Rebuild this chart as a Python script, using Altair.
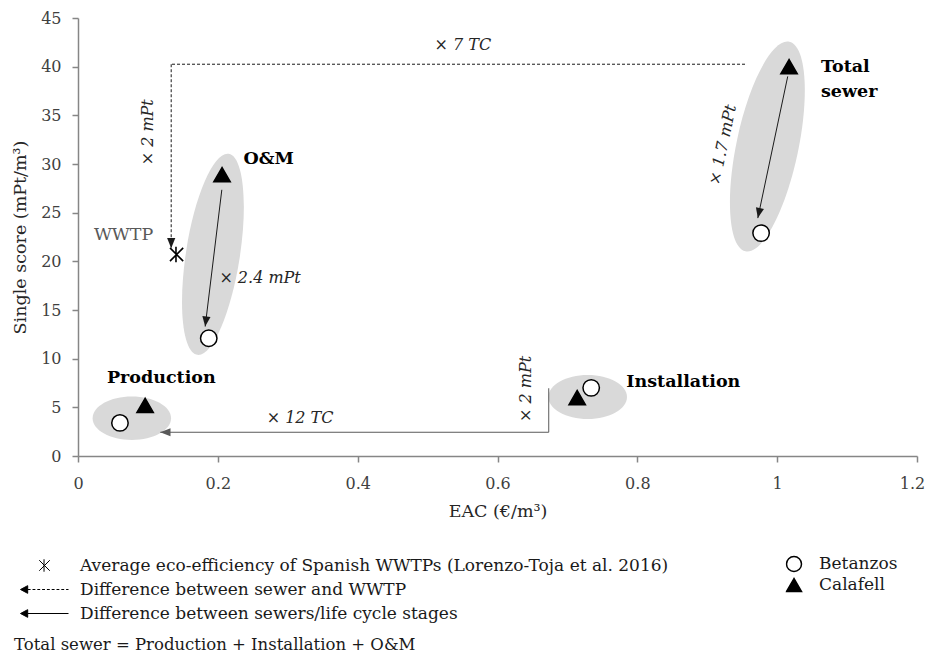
import altair as alt
import pandas as pd

# ---------------- data ----------------
stages = ["Production", "Installation", "O&M", "Total sewer"]
betanzos_eac = [0.060, 0.734, 0.187, 0.977]
betanzos_score = [3.4, 7.0, 12.1, 22.9]
calafell_eac = [0.096, 0.714, 0.206, 1.017]
calafell_score = [5.2, 6.0, 28.9, 40.0]
wwtp_eac = [0.141]
wwtp_score = [20.7]

x_ticks = [0, 0.2, 0.4, 0.6, 0.8, 1.0, 1.2]
y_ticks = [0, 5, 10, 15, 20, 25, 30, 35, 40, 45]

# group highlight ellipses (centres in data units)
ell_stage = ["Production", "Installation", "O&M", "Total sewer"]
ell_x = [0.077, 0.729, 0.193, 0.986]
ell_y = [3.87, 6.06, 20.72, 31.8]

# arrows (data units)
dash_x = [0.954, 0.1333]
dash_y = [40.25, 40.25]
dash_x2 = [0.1333, 0.1333]
dash_y2 = [40.25, 21.35]

stage_x = [0.2057, 1.0151, 0.6733, 0.6733]
stage_y = [27.35, 39.0, 6.96, 2.44]
stage_x2 = [0.1819, 0.9723, 0.6733, 0.1176]
stage_y2 = [13.3, 24.44, 2.44, 2.44]

head_x = [0.1333, 0.1819, 0.9723, 0.1176]
head_y = [21.35, 13.3, 24.44, 2.44]

# annotation texts
ital_text = ["× 7 TC", "× 2 mPt", "× 2.4 mPt", "× 1.7 mPt", "× 12 TC", "× 2 mPt"]
ital_x = [0.5504, 0.1004, 0.2604, 0.9223, 0.3176, 0.6414]
ital_y = [42.25, 33.26, 18.27, 31.97, 3.87, 6.89]

bold_text = ["O&M", "Total", "sewer", "Production", "Installation"]
bold_x = [0.2366, 1.0627, 1.0627, 0.0414, 0.7843]
bold_y = [30.53, 40.0, 37.35, 8.05, 7.64]

legend_items = [
    "Average eco-efficiency of Spanish WWTPs (Lorenzo-Toja et al. 2016)",
    "Difference between sewer and WWTP",
    "Difference between sewers/life cycle stages",
]
sites = ["Betanzos", "Calafell"]
footnote = "Total sewer = Production + Installation + O&M"

# ---------------- styling helpers ----------------
SERIF = "DejaVu Serif"
AX = "#868686"


def ellipse_path(rx, ry):
    k = 0.5523
    f = lambda v: f"{v:.4f}"
    return (f"M {f(rx)} 0 C {f(rx)} {f(k*ry)} {f(k*rx)} {f(ry)} 0 {f(ry)} "
            f"C {f(-k*rx)} {f(ry)} {f(-rx)} {f(k*ry)} {f(-rx)} 0 "
            f"C {f(-rx)} {f(-k*ry)} {f(-k*rx)} {f(-ry)} 0 {f(-ry)} "
            f"C {f(k*rx)} {f(-ry)} {f(rx)} {f(-k*ry)} {f(rx)} 0 Z")


HEAD = "M 0 0 L -0.4 -1 L 0.4 -1 Z"
STAR = "M -0.22 -0.22 L 0.22 0.22 M 0.22 -0.22 L -0.22 0.22 M -0.02 -0.26 L -0.02 0.26"
arrow_tip = "M -1 0 L -0.7 -0.16 L -0.7 0.16 Z"
dash_parts = []
pos = -0.7
while pos < 0.98:
    dash_parts.append(f"M {pos:.3f} 0 L {min(pos + 0.12, 1.0):.3f} 0")
    pos += 0.2
DASHED_ARROW = arrow_tip + " " + " ".join(dash_parts)
SOLID_ARROW = arrow_tip + " M -0.7 0 L 1 0"

x_enc = alt.X(
    "x:Q",
    scale=alt.Scale(domain=[0, 1.2], nice=False, zero=False),
    axis=alt.Axis(values=x_ticks, format="~g", title="EAC (€/m³)", grid=False,
                  tickSize=6, tickColor=AX, tickWidth=1.5, domainColor=AX, domainWidth=1.5,
                  labelFont=SERIF, labelFontSize=16, labelColor="#404040", labelPadding=13,
                  labelFlush=False, labelOverlap=False,
                  labelOffset={"condition": {"test": "datum.value > 1.1", "value": -5}, "value": 0},
                  titleFont=SERIF, titleFontSize=17.5, titleFontWeight="normal",
                  titleColor="#262626", titlePadding=11),
)
y_enc = alt.Y(
    "y:Q",
    scale=alt.Scale(domain=[0, 45], nice=False, zero=False),
    axis=alt.Axis(values=y_ticks, title="Single score (mPt/m³)", grid=False,
                  tickSize=6, tickColor=AX, tickWidth=1.5, domainColor=AX, domainWidth=1.5,
                  labelFont=SERIF, labelFontSize=16, labelColor="#404040", labelPadding=11,
                  labelFlush=False, labelOverlap=False,
                  titleFont=SERIF, titleFontSize=17.5, titleFontWeight="normal",
                  titleColor="#262626", titlePadding=11),
)

# ---------------- tables ----------------
ell_df = pd.DataFrame({
    "x": ell_x, "y": ell_y, "stage": ell_stage,
    "shape": [ellipse_path(1, 0.554), ellipse_path(1, 0.56),
              ellipse_path(0.265, 1), ellipse_path(0.29, 1)],
    "size": [6147, 6178, 41372, 45796],
    "angle": [0, 0, 8.9, 11.8],
})
dash_df = pd.DataFrame({"x": dash_x, "y": dash_y, "x2": dash_x2, "y2": dash_y2})
stage_df = pd.DataFrame({"x": stage_x, "y": stage_y, "x2": stage_x2, "y2": stage_y2,
                         "col": ["#1a1a1a", "#1a1a1a", "#595959", "#595959"]})
head_df = pd.DataFrame({"x": head_x, "y": head_y, "shape": [HEAD] * 4,
                        "angle": [0, 7.0, 12.0, 90.0],
                        "col": ["#1a1a1a", "#1a1a1a", "#1a1a1a", "#595959"]})
pts_df = pd.DataFrame({
    "x": betanzos_eac + calafell_eac,
    "y": betanzos_score + calafell_score,
    "site": [sites[0]] * 4 + [sites[1]] * 4,
    "stage": stages + stages,
})
wwtp_df = pd.DataFrame({"x": wwtp_eac, "y": wwtp_score, "kind": [legend_items[0]]})
ital_df = pd.DataFrame({"x": ital_x, "y": ital_y, "text": ital_text,
                        "angle": [0, 270, 0, 282, 0, 270]})
bold_df = pd.DataFrame({"x": bold_x, "y": bold_y, "text": bold_text})
wlab_df = pd.DataFrame({"x": [0.1077], "y": [22.72], "text": ["WWTP"]})
foot_df = pd.DataFrame({"text": [footnote]})

# ---------------- layers ----------------
ellipses = alt.Chart(ell_df).mark_point(filled=True, color="#d9d9d9", opacity=1, strokeWidth=0).encode(
    x=x_enc, y=y_enc,
    shape=alt.Shape("shape:N", scale=None, legend=None),
    size=alt.Size("size:Q", scale=None, legend=None),
    angle=alt.Angle("angle:Q", scale=None),
)

dashed = alt.Chart(dash_df).mark_rule(color="#1a1a1a", strokeWidth=1, strokeDash=[3, 2]).encode(
    x=x_enc, y=y_enc, x2="x2:Q", y2="y2:Q")

solid = alt.Chart(stage_df).mark_rule(strokeWidth=1).encode(
    x=x_enc, y=y_enc, x2="x2:Q", y2="y2:Q",
    color=alt.Color("col:N", scale=None, legend=None))

heads = alt.Chart(head_df).mark_point(filled=True, opacity=1, size=420, strokeWidth=0).encode(
    x=x_enc, y=y_enc,
    shape=alt.Shape("shape:N", scale=None, legend=None),
    angle=alt.Angle("angle:Q", scale=None),
    color=alt.Color("col:N", scale=None, legend=None))

site_legend = alt.Legend(title=None, orient="none", legendX=707.5, legendY=535.5,
                         symbolSize=225, clipHeight=21, rowPadding=0, labelOffset=16.5,
                         labelFont=SERIF, labelFontSize=17, labelColor="#1a1a1a",
                         symbolStrokeWidth=1.5, padding=0)
points = alt.Chart(pts_df).mark_point(filled=True, opacity=1, size=270,
                                      strokeWidth=1.5).encode(
    x=x_enc, y=y_enc,
    shape=alt.Shape("site:N", scale=alt.Scale(domain=sites, range=["circle", "triangle-up"]),
                    legend=site_legend),
    fill=alt.Fill("site:N", scale=alt.Scale(domain=sites, range=["white", "black"]),
                  legend=site_legend),
    stroke=alt.Stroke("site:N", scale=alt.Scale(domain=sites, range=["black", "black"]),
                      legend=site_legend),
)

kind_legend = alt.Legend(title=None, orient="none", legendX=-58, legendY=535.5,
                         symbolSize=2304, clipHeight=24, rowPadding=0, labelOffset=11,
                         labelLimit=0, labelFont=SERIF, labelFontSize=17, labelColor="#1a1a1a",
                         symbolStrokeWidth=1, padding=0)
wwtp = alt.Chart(wwtp_df).mark_point(filled=True, opacity=1, strokeWidth=1.6, size=3600).encode(
    x=x_enc, y=y_enc,
    shape=alt.Shape("kind:N", scale=alt.Scale(domain=legend_items,
                                              range=[STAR, DASHED_ARROW, SOLID_ARROW]),
                    legend=kind_legend),
    fill=alt.Fill("kind:N", scale=alt.Scale(domain=legend_items,
                                            range=["black", "black", "black"]),
                  legend=kind_legend),
    stroke=alt.Stroke("kind:N", scale=alt.Scale(domain=legend_items,
                                                range=["black", "black", "black"]),
                      legend=kind_legend),
)

ital = alt.Chart(ital_df).mark_text(font=SERIF, fontStyle="italic", fontSize=16,
                                    color="#262626", baseline="middle", align="center").encode(
    x=x_enc, y=y_enc, text="text:N", angle=alt.Angle("angle:Q", scale=None))

bold = alt.Chart(bold_df).mark_text(font=SERIF, fontWeight="bold", fontSize=17.5,
                                    color="black", baseline="middle", align="left").encode(
    x=x_enc, y=y_enc, text="text:N")

wlab = alt.Chart(wlab_df).mark_text(font=SERIF, fontSize=17.5, color="#595959",
                                    baseline="middle", align="right").encode(
    x=x_enc, y=y_enc, text="text:N")

foot = alt.Chart(foot_df).mark_text(font=SERIF, fontSize=16.5, color="#1a1a1a",
                                    baseline="middle", align="left").encode(
    x=alt.value(-64), y=alt.value(627), text="text:N")

chart = alt.layer(ellipses, dashed, solid, heads, points, wwtp, ital, bold, wlab, foot).resolve_scale(
    shape="independent", fill="independent", stroke="independent"
).resolve_legend(
    shape="independent", fill="independent", stroke="independent"
).properties(
    width=839, height=438,
    autosize=alt.AutoSizeParams(type="none"),
    padding={"left": 70, "top": 10, "right": 8, "bottom": 199},
).configure_view(stroke="transparent")

chart.save("out.html", embed_options={"renderer": "svg", "actions": False})
